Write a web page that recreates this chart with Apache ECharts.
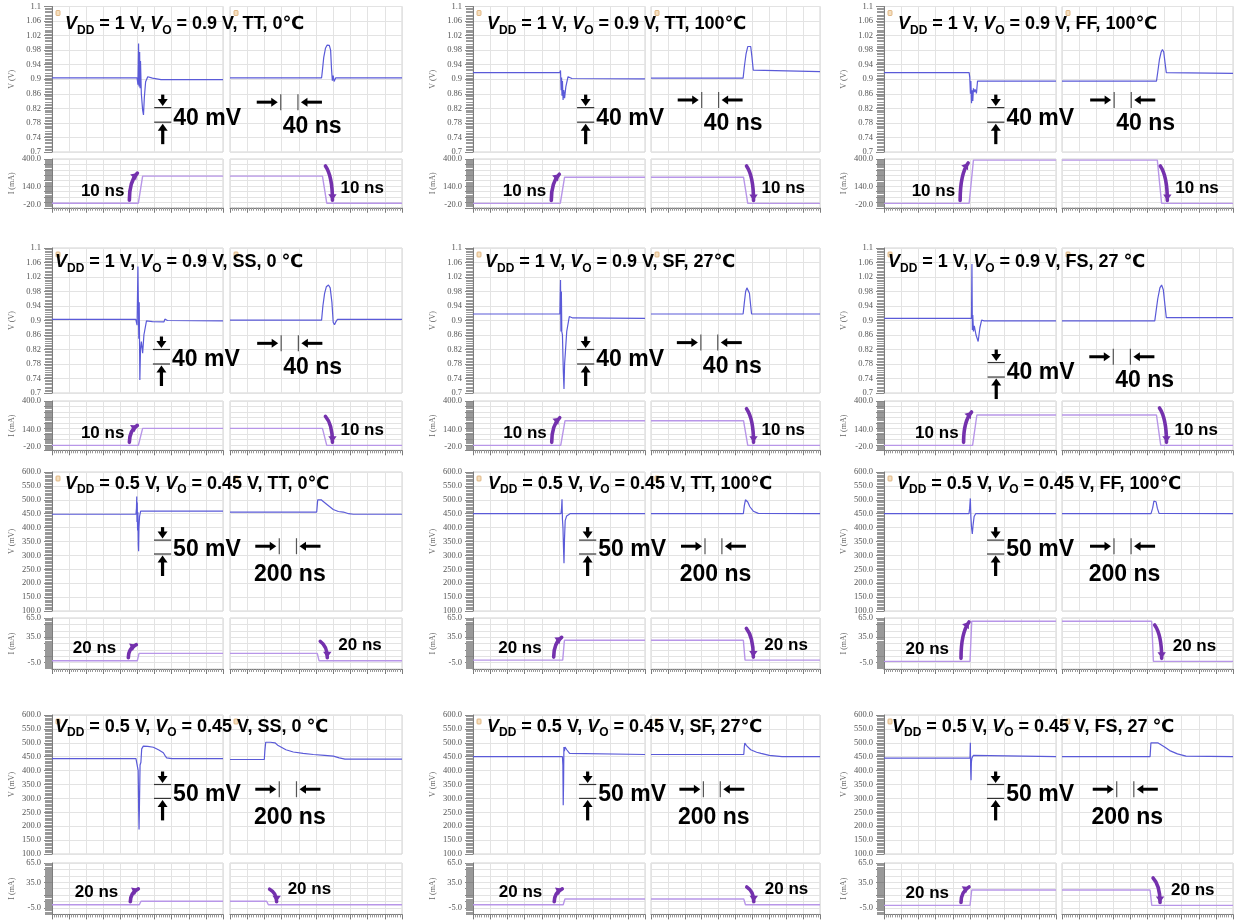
<!DOCTYPE html>
<html>
<head>
<meta charset="utf-8">
<script src="https://cdn.jsdelivr.net/npm/echarts@6/dist/echarts.min.js"></script>
<style>
  html, body { margin: 0; padding: 0; background: #fff; }
  #chart { width: 1239px; height: 920px; }
</style>
</head>
<body>
<div id="chart"></div>
<script>
// ---------------- operating conditions (row by row, left to right) ----------------
const supplyV = ['1', '1', '1', '1', '1', '1', '0.5', '0.5', '0.5', '0.5', '0.5', '0.5'];
const outputV = ['0.9', '0.9', '0.9', '0.9', '0.9', '0.9', '0.45', '0.45', '0.45', '0.45', '0.45', '0.45'];
const corner  = ['TT', 'TT', 'FF', 'SS', 'SF', 'FS', 'TT', 'TT', 'FF', 'SS', 'SF', 'FS'];
const temp    = ['0℃', '100℃', '100℃', '0 ℃', '27℃', '27 ℃', '0℃', '100℃', '100℃', '0 ℃', '27℃', '27 ℃'];

// ---------------- axis ticks (index 0: VDD = 1 V, index 1: VDD = 0.5 V) ----------------
const vTicks1V   = [0.7, 0.74, 0.78, 0.82, 0.86, 0.9, 0.94, 0.98, 1.02, 1.06, 1.1];
const vTicksHalf = [100, 150, 200, 250, 300, 350, 400, 450, 500, 550, 600];
const iTicks1V   = [-20, 140, 400];
const iTicksHalf = [-5, 35, 65];
const iGridHalf  = [-5, 5, 15, 25, 35, 45, 55, 65];
const tMaxNs     = [400, 2000];     // time window of each half (ns)
const tDivNs     = [40, 200];       // time per grid division (ns)
const vRange     = [[0.7, 1.1], [100, 600]];
const iRange     = [[-50, 400], [-15, 65]];

// ---------------- scale bars ----------------
const vBarValue = [0.04, 50];
const vBarText  = ['40 mV', '50 mV'];
const tBarValue = [40, 200];
const tBarText  = ['40 ns', '200 ns'];
const edgeNs    = [10, 20];
const edgeText  = ['10 ns', '20 ns'];

// ---------------- load current step (mA) ----------------
const iLow  = [-8, -10, -10, -5, -5, -5, -2, -1, -3, 0, 0, -1];
const iHigh = [242, 232, 390, 150, 220, 272, 9.5, 30, 60, 5.5, 9, 23];
const tRise = [202, 203, 198, 202, 204, 206, 998, 1043, 1000, 1021, 1049, 1000];
const tFall = [215, 219, 223, 215, 219, 221, 1015, 1093, 1049, 426, 1098, 1030];

// ---------------- output voltage, load step up (left) / down (right) ----------------
// VDD = 1 V, values in V
const up1_TT0 = [[0,0.904],[199,0.904],[201,0.885],[202.5,0.998],[203.5,0.88],[205,0.975],[206,0.875],[207,0.95],[209,0.86],[212,0.815],[214,0.802],[216,0.85],[219,0.893],[224,0.907],[235,0.903],[255,0.899],[400,0.899]];
const dn1_TT0 = [[0,0.904],[213,0.904],[215,0.925],[218,0.96],[222,0.985],[226,0.994],[231,0.993],[234,0.98],[236,0.93],[238,0.896],[240,0.91],[242,0.894],[246,0.904],[400,0.904]];
const up1_TT100 = [[0,0.918],[202,0.918],[203.5,0.924],[205,0.87],[206,0.905],[207,0.855],[208,0.895],[209.5,0.843],[211,0.87],[213,0.848],[216,0.88],[221,0.907],[230,0.902],[400,0.901]];
const dn1_TT100 = [[0,0.903],[218,0.903],[221,0.935],[225,0.97],[229,0.99],[233,0.994],[236,0.99],[239,0.96],[242,0.925],[246,0.921],[400,0.921]];
const up1_FF100 = [[0,0.918],[198,0.918],[199.5,0.905],[201,0.86],[202,0.895],[203.5,0.834],[205,0.87],[206.5,0.84],[208,0.875],[210,0.865],[212,0.872],[215,0.861],[217.5,0.895],[400,0.895]];
const dn1_FF100 = [[0,0.895],[221,0.895],[224,0.92],[228,0.955],[232,0.975],[235,0.982],[238,0.975],[241,0.945],[244,0.918],[246,0.916],[400,0.916]];
const up1_SS0 = [[0,0.903],[196,0.903],[199,0.887],[201,1.049],[203,0.85],[204,0.95],[205.5,0.736],[207,0.82],[209,0.842],[212,0.81],[215,0.86],[221,0.899],[235,0.897],[262,0.896],[264,0.904],[270,0.9],[400,0.899]];
const dn1_SS0 = [[0,0.901],[213,0.901],[216,0.94],[220,0.975],[224,0.993],[229,0.998],[233,0.99],[237,0.95],[240,0.895],[243,0.888],[246,0.896],[250,0.903],[400,0.903]];
const up1_SF27 = [[0,0.918],[202,0.918],[203.5,1.012],[204.5,0.87],[205.5,0.98],[206.5,0.87],[208,0.86],[210,0.76],[211.6,0.711],[213,0.78],[214.7,0.81],[218,0.87],[224,0.911],[232,0.907],[400,0.906]];
const dn1_SF27 = [[0,0.918],[218,0.918],[221,0.95],[224,0.98],[227,0.99],[230,0.99],[233,0.975],[236,0.94],[238,0.918],[400,0.918]];
const up1_FS27 = [[0,0.906],[203.5,0.906],[204.5,1.056],[205.5,0.874],[206.5,0.915],[208,0.87],[210,0.885],[214,0.86],[219,0.842],[223,0.88],[227,0.901],[233,0.899],[400,0.899]];
const dn1_FS27 = [[0,0.899],[217,0.899],[220,0.925],[224,0.96],[229,0.99],[233,0.998],[237,0.985],[241,0.94],[244,0.908],[400,0.908]];
// VDD = 0.5 V, values in mV
const up05_TT0 = [[0,448],[982,448],[988,470],[991,512],[994,420],[997,490],[1001,390],[1005,455],[1009,340],[1013,315],[1017,400],[1024,440],[1037,459],[2000,459]];
const dn05_TT0 = [[0,456],[1008,456],[1020,500],[1027,503],[1060,500],[1120,485],[1200,465],[1260,458],[1318,456],[1380,450],[1434,448],[2000,448]];
const up05_TT100 = [[0,450],[1023,450],[1030,470],[1035,502],[1040,430],[1046,400],[1052,330],[1058,272],[1064,360],[1072,425],[1089,442],[1110,449],[1128,450],[2000,450]];
const dn05_TT100 = [[0,450],[1093,450],[1105,480],[1118,500],[1128,501],[1145,492],[1170,475],[1211,459],[1270,451],[2000,450]];
const up05_FF100 = [[0,450],[988,450],[996,470],[1004,505],[1010,440],[1018,400],[1027,377],[1036,410],[1048,440],[1066,450],[2000,450]];
const dn05_FF100 = [[0,450],[1041,450],[1060,470],[1075,495],[1088,500],[1100,493],[1115,470],[1135,451],[2000,450]];
const up05_SS0 = [[0,443],[982,443],[995,440],[1008,400],[1014,250],[1018,188],[1022,260],[1030,420],[1040,430],[1049,478],[1068,488],[1120,487],[1185,484],[1250,474],[1302,464],[1320,455],[1341,446],[1400,443],[2000,443]];
const dn05_SS0 = [[0,440],[399,440],[405,470],[415,502],[470,502],[523,500],[560,490],[581,488],[650,475],[736,467],[850,462],[969,458],[1100,455],[1202,452],[1270,446],[1337,441],[2000,441]];
const up05_SF27 = [[0,450],[1040,450],[1045,420],[1049,275],[1053,350],[1057,485],[1063,470],[1070,485],[1090,475],[1123,462],[1140,458],[2000,458]];
const dn05_SF27 = [[0,458],[1098,458],[1104,485],[1110,499],[1130,490],[1180,475],[1250,466],[1302,462],[1400,455],[1550,450],[2000,450]];
const up05_FS27 = [[0,445],[1000,445],[1004,500],[1008,400],[1012,365],[1016,430],[1022,445],[1040,455],[1060,450],[2000,450]];
const dn05_FS27 = [[0,450],[1030,450],[1040,500],[1060,505],[1120,500],[1200,485],[1260,472],[1350,460],[1450,452],[2000,450]];

const vUp = [up1_TT0, up1_TT100, up1_FF100, up1_SS0, up1_SF27, up1_FS27,
             up05_TT0, up05_TT100, up05_FF100, up05_SS0, up05_SF27, up05_FS27];
const vDown = [dn1_TT0, dn1_TT100, dn1_FF100, dn1_SS0, dn1_SF27, dn1_FS27,
               dn05_TT0, dn05_TT100, dn05_FF100, dn05_SS0, dn05_SF27, dn05_FS27];

// scale bar anchors in data units: amplitude bar (left half) and time bar (right half)
const vBarStartNs = [239, 242, 240, 236, 242, 241, 1193, 1233, 1198, 1193, 1233, 1198];
const vBarBottom  = [0.782, 0.782, 0.782, 0.78, 0.78, 0.744, 305, 305, 305, 300, 300, 300];
const tBarStartNs = [118, 120, 122, 119, 118, 120, 573, 639, 608, 573, 620, 640];
const tBarLevel   = [0.837, 0.843, 0.843, 0.837, 0.839, 0.80, 333, 333, 333, 333, 333, 333];

// ---------------- page layout (px) ----------------
const COLS = [[52, 223, 230, 402], [473, 645, 651, 820], [884, 1056, 1062, 1233]];
const ROWS = [[6.5, 152, 159, 207.75], [248, 393, 401, 450.3], [472, 611, 618, 669], [715, 854, 863, 914.4]];
const titleDx = [13, 14, 14, 3, 12, 4, 13, 15, 13, 3, 14, 8];
const titleDy = [18, 14.5, 12, 12];

const SERIF = '"Liberation Serif","DejaVu Serif",serif';
const SANS = '"Liberation Sans",Arial,"DejaVu Sans",sans-serif';
const V_COLOR = '#5a5ad8';
const I_COLOR = '#b896e8';
const ARROW_PURPLE = '#7431ad';
const GRID_LINE = '#e3e3e3';
const AXIS_GREY = '#7c7c7c';

// ---------------- annotation renderers ----------------
function arrowHead(tip, from, len, half, color) {
  const dx = tip[0] - from[0], dy = tip[1] - from[1];
  const d = Math.hypot(dx, dy) || 1;
  const ux = dx / d, uy = dy / d;
  const bx = tip[0] - ux * len, by = tip[1] - uy * len;
  return { type: 'polygon', shape: { points: [[tip[0], tip[1]], [bx - uy * half, by + ux * half], [bx + uy * half, by - ux * half]] },
           style: { fill: color } };
}

function ampBar(label) {
  return function (params, api) {
    const a = api.coord([api.value(0), api.value(1)]);
    const b = api.coord([api.value(2), api.value(3)]);
    const xm = (a[0] + b[0]) / 2, yb = a[1], yt = b[1];
    return { type: 'group', children: [
      { type: 'line', shape: { x1: a[0], y1: yb, x2: b[0], y2: yb }, style: { stroke: '#333', lineWidth: 1.2 } },
      { type: 'line', shape: { x1: a[0], y1: yt, x2: b[0], y2: yt }, style: { stroke: '#333', lineWidth: 1.2 } },
      { type: 'line', shape: { x1: xm, y1: yt - 13, x2: xm, y2: yt - 6 }, style: { stroke: '#000', lineWidth: 3.2 } },
      arrowHead([xm, yt - 1.5], [xm, yt - 10], 7, 5, '#000'),
      { type: 'line', shape: { x1: xm, y1: yb + 7, x2: xm, y2: yb + 22 }, style: { stroke: '#000', lineWidth: 3.2 } },
      arrowHead([xm, yb + 1.5], [xm, yb + 10], 7, 5, '#000'),
      { type: 'text', style: { text: label, x: b[0] + 2, y: yb - 4, font: 'bold 23px ' + SANS, fill: '#000', align: 'left', verticalAlign: 'middle' } }
    ] };
  };
}

function timeBar(label, kind) {
  return function (params, api) {
    const a = api.coord([api.value(0), api.value(1)]);
    const b = api.coord([api.value(2), api.value(1)]);
    const y = a[1];
    const text = kind === 0
      ? { text: label, x: a[0] + 2, y: y + 24, align: 'left' }
      : { text: label, x: (a[0] + b[0]) / 2 + 2, y: y + 28, align: 'center' };
    return { type: 'group', children: [
      { type: 'line', shape: { x1: a[0], y1: y - 8, x2: a[0], y2: y + 8 }, style: { stroke: '#555', lineWidth: 1.2 } },
      { type: 'line', shape: { x1: b[0], y1: y - 8, x2: b[0], y2: y + 8 }, style: { stroke: '#555', lineWidth: 1.2 } },
      { type: 'line', shape: { x1: a[0] - 24, y1: y, x2: a[0] - 8, y2: y }, style: { stroke: '#000', lineWidth: 3 } },
      arrowHead([a[0] - 3, y], [a[0] - 12, y], 6.5, 4.5, '#000'),
      { type: 'line', shape: { x1: b[0] + 8, y1: y, x2: b[0] + 24, y2: y }, style: { stroke: '#000', lineWidth: 3 } },
      arrowHead([b[0] + 3, y], [b[0] + 12, y], 6.5, 4.5, '#000'),
      { type: 'text', style: Object.assign({ font: 'bold 23px ' + SANS, fill: '#000', verticalAlign: 'middle' }, text) }
    ] };
  };
}

function edgeArrow(label, rising, kind, yTopValue) {
  return function (params, api) {
    const e0 = api.coord([api.value(0), api.value(1)]);   // edge start
    const e1 = api.coord([api.value(2), api.value(3)]);   // edge end
    const yTop = api.coord([0, yTopValue])[1];
    let tail, tip, cp, text;
    if (rising) {
      const yL = e0[1], yH = e1[1], xs = e0[0];
      tail = [xs - 9, yL - 3];
      tip = [xs - 1, Math.max(yTop + 4, Math.min(yH - 3, yL - 16))];
      cp = [tail[0], tip[1] + (tail[1] - tip[1]) * 0.3];
      text = { text: label, x: xs - (kind === 0 ? 14 : 21), y: yL - 12, align: 'right' };
    } else {
      const yH = e0[1], yL = e1[1], xf = e0[0];
      tail = [xf + 3, Math.max(yTop + 7, Math.min(yH - 12, yL - 14))];
      tip = [xf + 10, yL - 3];
      cp = [tip[0], tail[1] + (tip[1] - tail[1]) * 0.3];
      text = { text: label, x: xf + (kind === 0 ? 18 : 21), y: yL - 15, align: 'left' };
    }
    return { type: 'group', children: [
      { type: 'bezierCurve', shape: { x1: tail[0], y1: tail[1], x2: tip[0], y2: tip[1], cpx1: cp[0], cpy1: cp[1] },
        style: { stroke: ARROW_PURPLE, lineWidth: 3.6, fill: null, lineCap: 'round' } },
      arrowHead(tip, cp, 6, 4.2, ARROW_PURPLE),
      { type: 'text', style: Object.assign({ font: 'bold 17px ' + SANS, fill: '#000', verticalAlign: 'middle' }, text) }
    ] };
  };
}

// ---------------- build the 12 panels ----------------
const grid = [], xAxis = [], yAxis = [], series = [], graphic = [];

for (let p = 0; p < 12; p++) {
  const r = Math.floor(p / 3), c = p % 3, k = r < 2 ? 0 : 1;
  const [xa, xb, xc, xd] = COLS[c];
  const [ya, yb, yc, yd] = ROWS[r];
  const boxes = [[xa, ya, xb, yb], [xc, ya, xd, yb], [xa, yc, xb, yd], [xc, yc, xd, yd]];
  const base = grid.length;

  boxes.forEach(([x0, y0, x1, y1], j) => {
    const isI = j >= 2, isLeft = j % 2 === 0;
    grid.push({ left: x0, top: y0, width: x1 - x0, height: y1 - y0, show: true, borderColor: '#d2d2d2', borderWidth: 1,
                backgroundColor: '#fff', containLabel: false, outerBoundsMode: 'none' });
    const gi = base + j;
    xAxis.push({
      type: 'value', gridIndex: gi, min: 0, max: tMaxNs[k], interval: tDivNs[k],
      axisLabel: { show: false },
      axisLine: { show: isI, onZero: false, lineStyle: { color: AXIS_GREY, width: 1 } },
      axisTick: { show: isI, length: 5, lineStyle: { color: AXIS_GREY } },
      minorTick: { show: isI, splitNumber: 8, length: 3, lineStyle: { color: '#999' } },
      splitLine: { show: true, lineStyle: { color: GRID_LINE, width: 1 } }
    });
    const labelStyle = { fontSize: 8.5, fontFamily: SERIF, color: '#555', margin: 11, hideOverlap: false };
    if (!isI) {
      yAxis.push({
        type: 'value', gridIndex: gi, min: vRange[k][0], max: vRange[k][1], interval: k === 0 ? 0.02 : 50,
        axisLine: { show: isLeft, onZero: false, lineStyle: { color: AXIS_GREY } },
        axisTick: { show: isLeft, length: 8, lineStyle: { color: '#888' }, customValues: k === 0 ? vTicks1V : undefined },
        minorTick: { show: isLeft, splitNumber: k === 0 ? 5 : 10, length: 7, lineStyle: { color: '#999' } },
        axisLabel: Object.assign({ show: isLeft, customValues: k === 0 ? vTicks1V : vTicksHalf,
          formatter: v => (k === 0 ? String(+(+v).toFixed(2)) : (+v).toFixed(1)) }, labelStyle),
        splitLine: { show: true, lineStyle: { color: GRID_LINE, width: 1 } },
        name: isLeft ? (k === 0 ? 'V (V)' : 'V (mV)') : '', nameLocation: 'middle', nameGap: 36, nameRotate: 90,
        nameTextStyle: { fontSize: 8, fontFamily: SERIF, color: '#666' }
      });
    } else {
      yAxis.push({
        type: 'value', gridIndex: gi, min: iRange[k][0], max: iRange[k][1], interval: k === 0 ? 50 : 5,
        axisLine: { show: isLeft, onZero: false, lineStyle: { color: AXIS_GREY } },
        axisTick: { show: isLeft, length: 8, lineStyle: { color: '#888' }, customValues: k === 0 ? undefined : iGridHalf },
        minorTick: { show: isLeft, splitNumber: 5, length: 7, lineStyle: { color: '#999' } },
        axisLabel: Object.assign({ show: isLeft, customValues: k === 0 ? iTicks1V : iTicksHalf,
          formatter: v => (+v).toFixed(1) }, labelStyle),
        splitLine: { show: true, lineStyle: { color: GRID_LINE, width: 1 } },
        name: isLeft ? 'I (mA)' : '', nameLocation: 'middle', nameGap: 36, nameRotate: 90,
        nameTextStyle: { fontSize: 8, fontFamily: SERIF, color: '#666' }
      });
    }
  });

  const lineCommon = { type: 'line', symbol: 'none', showSymbol: false, silent: true, animation: false, clip: true, z: 3 };
  series.push(Object.assign({ xAxisIndex: base, yAxisIndex: base, data: vUp[p], lineStyle: { color: V_COLOR, width: 1.2 } }, lineCommon));
  series.push(Object.assign({ xAxisIndex: base + 1, yAxisIndex: base + 1, data: vDown[p], lineStyle: { color: V_COLOR, width: 1.2 } }, lineCommon));
  const edge = edgeNs[k];
  series.push(Object.assign({ xAxisIndex: base + 2, yAxisIndex: base + 2, lineStyle: { color: I_COLOR, width: 1.4 },
    data: [[0, iLow[p]], [tRise[p], iLow[p]], [tRise[p] + edge, iHigh[p]], [tMaxNs[k], iHigh[p]]] }, lineCommon));
  series.push(Object.assign({ xAxisIndex: base + 3, yAxisIndex: base + 3, lineStyle: { color: I_COLOR, width: 1.4 },
    data: [[0, iHigh[p]], [tFall[p], iHigh[p]], [tFall[p] + edge, iLow[p]], [tMaxNs[k], iLow[p]]] }, lineCommon));

  const customCommon = { type: 'custom', silent: true, animation: false, clip: false, z: 6 };
  series.push(Object.assign({ xAxisIndex: base, yAxisIndex: base, renderItem: ampBar(vBarText[k]),
    encode: { x: [0, 2], y: [1, 3] },
    data: [[vBarStartNs[p], vBarBottom[p], vBarStartNs[p] + tDivNs[k], vBarBottom[p] + vBarValue[k]]] }, customCommon));
  series.push(Object.assign({ xAxisIndex: base + 1, yAxisIndex: base + 1, renderItem: timeBar(tBarText[k], k),
    encode: { x: [0, 2], y: [1] },
    data: [[tBarStartNs[p], tBarLevel[p], tBarStartNs[p] + tBarValue[k]]] }, customCommon));
  series.push(Object.assign({ xAxisIndex: base + 2, yAxisIndex: base + 2, renderItem: edgeArrow(edgeText[k], true, k, iRange[k][1]),
    encode: { x: [0, 2], y: [1, 3] },
    data: [[tRise[p], iLow[p], tRise[p] + edge, iHigh[p]]] }, customCommon));
  series.push(Object.assign({ xAxisIndex: base + 3, yAxisIndex: base + 3, renderItem: edgeArrow(edgeText[k], false, k, iRange[k][1]),
    encode: { x: [0, 2], y: [1, 3] },
    data: [[tFall[p], iHigh[p], tFall[p] + edge, iLow[p]]] }, customCommon));

  // small marker icons at the top-left corner of each voltage pane
  [xa, xc].forEach(x0 => {
    graphic.push({ type: 'rect', x: x0 + 4, y: ya + 4, shape: { width: 4, height: 5, r: 0.8 }, z: 8,
      style: { fill: '#f5dfbf', stroke: '#d9a86f', lineWidth: 0.8 } });
  });

  // operating-condition caption
  graphic.push({
    type: 'text', x: xa + titleDx[p], y: ya + titleDy[r], z: 20,
    style: {
      text: '{v|V}{s|DD}{n| = ' + supplyV[p] + ' V, }{v|V}{s|O}{n| = ' + outputV[p] + ' V, ' + corner[p] + ', ' + temp[p] + '}',
      align: 'left', verticalAlign: 'middle', fill: '#000',
      rich: {
        v: { font: 'italic bold 18px ' + SANS, fill: '#000', lineHeight: 24 },
        n: { font: 'bold 18px ' + SANS, fill: '#000', lineHeight: 24 },
        s: { font: 'bold 12px ' + SANS, fill: '#000', lineHeight: 12, verticalAlign: 'bottom' }
      }
    }
  });
}

const chart = echarts.init(document.getElementById('chart'), null, { renderer: 'canvas' });
chart.setOption({
  animation: false,
  backgroundColor: '#fff',
  grid, xAxis, yAxis, series,
  graphic: { elements: graphic }
});
</script>
</body>
</html>
